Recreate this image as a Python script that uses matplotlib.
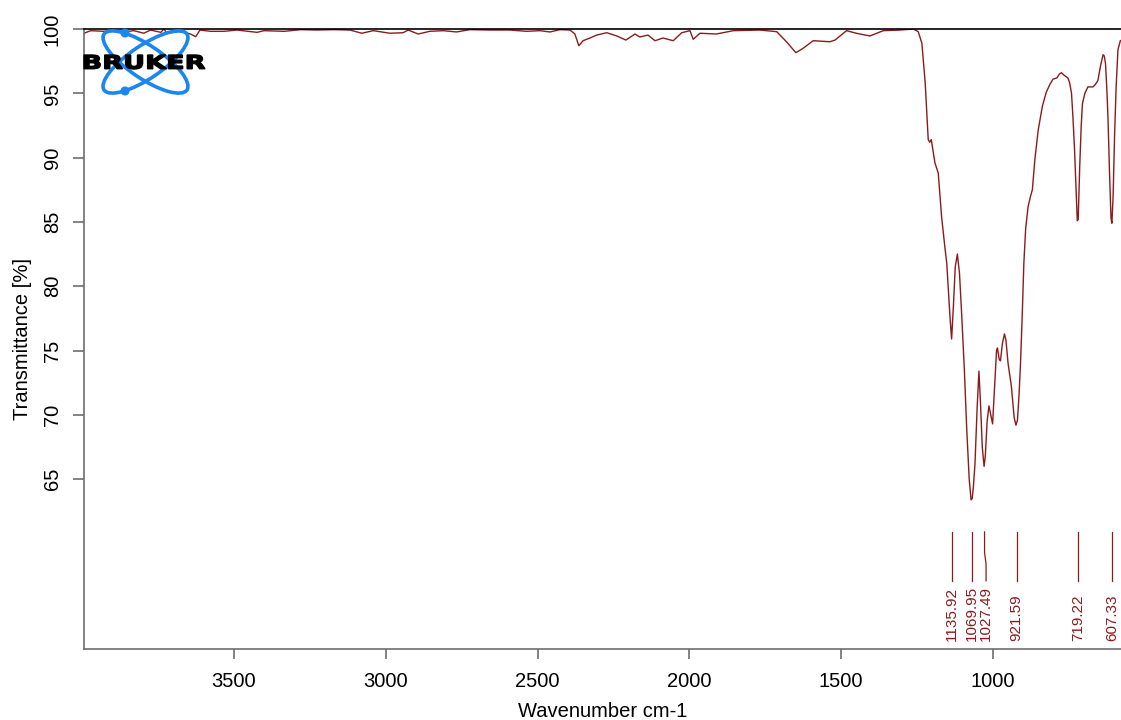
import numpy as np
import matplotlib
matplotlib.use("Agg")
import matplotlib.pyplot as plt
from matplotlib.patches import Ellipse, Circle, PathPatch
from matplotlib.textpath import TextPath
from matplotlib.font_manager import FontProperties
from matplotlib.transforms import Affine2D

plt.rcParams['font.family'] = ['Liberation Sans', 'DejaVu Sans']

# Spectrum (wavenumber cm-1, transmittance %)
wavenumber = [
    3994, 3972, 3929, 3896, 3874, 3830, 3797, 3775, 3741, 3731, 3720, 3676, 3643, 3626,
    3612, 3577, 3533, 3490, 3424, 3401, 3335, 3280, 3227, 3171, 3118, 3079, 3041, 2986,
    2943, 2926, 2893, 2855, 2811, 2767, 2723, 2657, 2591, 2536, 2492, 2459, 2426, 2393,
    2377, 2364, 2350, 2327, 2305, 2272, 2239, 2209, 2179, 2163, 2136, 2113, 2087, 2053,
    2025, 1998, 1987, 1965, 1911, 1855, 1767, 1712, 1680, 1649, 1625, 1592, 1537, 1520,
    1482, 1450, 1405, 1361, 1306, 1262, 1246,
    1234, 1223, 1213, 1208, 1203, 1191, 1180, 1169, 1158, 1152, 1145, 1141, 1136, 1130,
    1124, 1117, 1110, 1103, 1094, 1086, 1078, 1072, 1068, 1064, 1059, 1052, 1046, 1041,
    1035, 1029, 1025, 1019, 1013, 1007, 1001, 995, 988, 985, 979, 975, 969, 962, 957,
    950, 939, 930, 924, 919, 914, 909, 903, 898, 892, 884, 876, 870, 862, 851, 837, 824,
    812, 802, 789, 781, 774, 765, 753, 747, 741, 736, 731, 726, 722, 719, 714, 709, 705,
    697, 687, 670, 662, 654, 645, 637, 633, 629, 625, 621, 616, 611, 608, 604, 599, 594,
    588, 580,
]
transmittance = [
    99.67, 99.87, 99.82, 99.94, 99.74, 99.87, 99.67, 99.92, 99.74, 100.0, 99.67, 99.82, 99.61, 99.4,
    99.92, 99.82, 99.82, 99.92, 99.74, 99.87, 99.82, 99.95, 99.92, 99.95, 99.92, 99.67, 99.87, 99.67,
    99.71, 99.92, 99.61, 99.82, 99.87, 99.77, 99.95, 99.92, 99.92, 99.82, 99.87, 99.77, 99.95, 99.92,
    99.61, 98.7, 99.09, 99.3, 99.53, 99.71, 99.46, 99.14, 99.61, 99.38, 99.53, 99.09, 99.3, 99.09,
    99.71, 99.87, 99.2, 99.67, 99.61, 99.87, 99.92, 99.79, 99.01, 98.16, 98.5, 99.09, 99.01, 99.14,
    99.87, 99.67, 99.46, 99.87, 99.92, 100.0, 99.79,
    98.9, 95.8, 91.4, 91.2, 91.4, 89.6, 88.8, 85.4, 83.0, 81.8, 79.0, 77.5, 75.9, 78.5,
    81.5, 82.5, 81.0, 77.9, 73.5, 68.8, 65.0, 63.4, 63.5, 64.5, 66.2, 70.5, 73.4, 71.0,
    67.5, 66.0, 66.8, 69.5, 70.7, 70.0, 69.3, 72.0, 75.0, 75.2, 74.3, 74.2, 75.5, 76.3, 75.8,
    74.0, 72.2, 69.8, 69.2, 69.6, 71.5, 74.0, 78.0, 81.8, 84.5, 86.2, 87.0, 87.5, 89.8, 92.1, 94.0, 95.1,
    95.7, 96.1, 96.2, 96.5, 96.6, 96.4, 96.2, 95.8, 95.0, 93.0, 90.6, 87.5, 85.1, 85.2, 89.3, 92.5, 94.2,
    95.0, 95.5, 95.5, 95.7, 96.0, 97.2, 98.0, 97.9, 97.3, 95.5, 93.2, 89.0, 85.3, 84.9, 87.0, 91.9, 95.5,
    98.4, 99.1,
]

peaks = [1135.92, 1069.95, 1027.49, 921.59, 719.22, 607.33]
peak_labels = ["1135.92", "1069.95", "1027.49", "921.59", "719.22", "607.33"]
label_pos = [1135.92, 1069.95, 1022.5, 921.59, 719.22, 607.33]

x_ticks = [3500, 3000, 2500, 2000, 1500, 1000]
y_ticks = [65, 70, 75, 80, 85, 90, 95, 100]

line_color = '#8b1a1a'
axis_gray = '#6e6e6e'

fig = plt.figure(figsize=(11.21, 7.2), dpi=100)
ax = fig.add_axes([84 / 1121, 71 / 720, 1037 / 1121, 620 / 720])

ax.plot(wavenumber, transmittance, color=line_color, linewidth=1.0)

# Peak marks: short vertical lines with rotated values below
for p, lp, lab in zip(peaks, label_pos, peak_labels):
    if lp == p:
        ax.plot([p, p], [57.1, 60.9], color=line_color, linewidth=0.9)
    else:
        ax.plot([p, p, lp, lp], [60.9, 59.3, 58.4, 57.1], color=line_color, linewidth=0.9)
    ax.text(lp, 52.4, lab, rotation=90, ha='center', va='bottom',
            color=line_color, fontsize=11)

ax.set_xlim(3994, 578)
ax.set_ylim(51.8, 100)
ax.set_xticks(x_ticks)
ax.set_yticks(y_ticks)

for side in ['left', 'bottom']:
    ax.spines[side].set_color(axis_gray)
    ax.spines[side].set_linewidth(1.2)
ax.spines['right'].set_visible(False)
ax.spines['top'].set_color('black')
ax.spines['top'].set_linewidth(1.2)

ax.tick_params(axis='both', colors=axis_gray, labelcolor='black', labelsize=14.5, width=1.2)
ax.tick_params(axis='x', length=7.5, pad=9)
ax.tick_params(axis='y', length=8, pad=8)
for lab in ax.get_yticklabels():
    lab.set_rotation(90)
    lab.set_va('center')
    lab.set_ha('right')

ax.set_xlabel("Wavenumber cm-1", fontsize=14.5, labelpad=8)
ax.set_ylabel("Transmittance [%]", fontsize=14.5, labelpad=8)

# Bruker logo, drawn in a small pixel-scaled axes
lax = fig.add_axes([80 / 1121, 620 / 720, 130 / 1121, 75 / 720])
lax.set_xlim(80, 210)
lax.set_ylim(620, 695)
lax.axis('off')
blue = '#1a86f0'
for ang in (34, -34):
    lax.add_patch(Ellipse((145.5, 658), 100, 33, angle=ang, fill=False,
                          edgecolor=blue, linewidth=2.6))
lax.add_patch(Circle((125, 687), 3.8, color=blue))
lax.add_patch(Circle((125, 629), 3.8, color=blue))

tp = TextPath((0, 0), "BRUKER", size=20, prop=FontProperties(family='DejaVu Sans', weight='bold'))
bb = tp.get_extents()
tr = Affine2D().translate(-bb.x0, -bb.y0).scale(121 / bb.width, 14 / bb.height).translate(84, 651)
lax.add_patch(PathPatch(tr.transform_path(tp), facecolor='black', edgecolor='black', linewidth=1.0))

plt.savefig("out.png", dpi=100)
plt.close()
